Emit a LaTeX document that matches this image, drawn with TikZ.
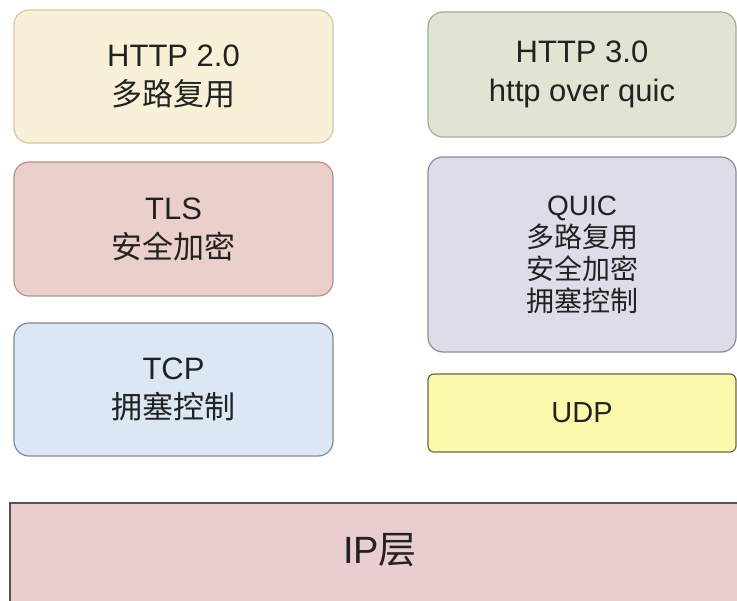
\documentclass[tikz,border=0pt]{standalone}
\usepackage{fontspec}
\setmainfont{Liberation Sans}
\newfontfamily\cjk{Noto Sans CJK SC}
\definecolor{txt}{HTML}{222222}
\definecolor{hfill}{HTML}{F8F1D8}\definecolor{hline}{HTML}{D6C9A2}
\definecolor{tlsfill}{HTML}{EBCFCB}\definecolor{tlsline}{HTML}{B48F8C}
\definecolor{tcpfill}{HTML}{DCE7F6}\definecolor{tcpline}{HTML}{7F8A9C}
\definecolor{h3fill}{HTML}{DEE5D3}\definecolor{h3line}{HTML}{A2AA9B}
\definecolor{qfill}{HTML}{DFDCE9}\definecolor{qline}{HTML}{8C889C}
\definecolor{ufill}{HTML}{FCF9AC}\definecolor{uline}{HTML}{6E6A40}
\definecolor{ipfill}{HTML}{E9CDCF}\definecolor{ipline}{HTML}{555555}
\tikzset{
  layer/.style={draw, line width=1.2pt, rounded corners=15pt, align=center,
    text=txt, inner sep=0pt, font=\fontsize{31}{39}\selectfont},
}
\begin{document}
\begin{tikzpicture}[x=1pt,y=-1pt]
\clip (0,0) rectangle (737,601);
\fill[white] (0,0) rectangle (737,601);
% left stack: HTTP/2 over TLS over TCP
\node[layer, fill=hfill, draw=hline, minimum width=319pt, minimum height=133pt]
  (http2) at (173.5,76.5) {HTTP 2.0\\{\cjk 多路复用}};
\node[layer, fill=tlsfill, draw=tlsline, minimum width=319pt, minimum height=134pt]
  (tls) at (173.5,229) {TLS\\{\cjk 安全加密}};
\node[layer, fill=tcpfill, draw=tcpline, minimum width=319pt, minimum height=133pt]
  (tcp) at (173.5,389.5) {TCP\\{\cjk 拥塞控制}};
% right stack: HTTP/3 over QUIC over UDP
\node[layer, fill=h3fill, draw=h3line, minimum width=308pt, minimum height=125pt]
  (http3) at (582,74.5) {HTTP 3.0\\http over quic};
\node[layer, fill=qfill, draw=qline, minimum width=308pt, minimum height=195pt,
  font=\fontsize{28}{32}\selectfont]
  (quic) at (582,254.5) {QUIC\\{\cjk 多路复用}\\{\cjk 安全加密}\\{\cjk 拥塞控制}};
\node[layer, fill=ufill, draw=uline, rounded corners=6pt, minimum width=308pt,
  minimum height=78pt, font=\fontsize{29}{34}\selectfont]
  (udp) at (582,413) {UDP};
% shared network layer
\node[layer, fill=ipfill, draw=ipline, rounded corners=0pt, minimum width=740pt,
  minimum height=117pt, font=\fontsize{38}{44}\selectfont]
  (ip) at (380,561.5) {};
\node[text=txt, font=\fontsize{38}{44}\selectfont, inner sep=0pt]
  (iplabel) at (380,550) {IP{\cjk 层}};
\end{tikzpicture}
\end{document}
